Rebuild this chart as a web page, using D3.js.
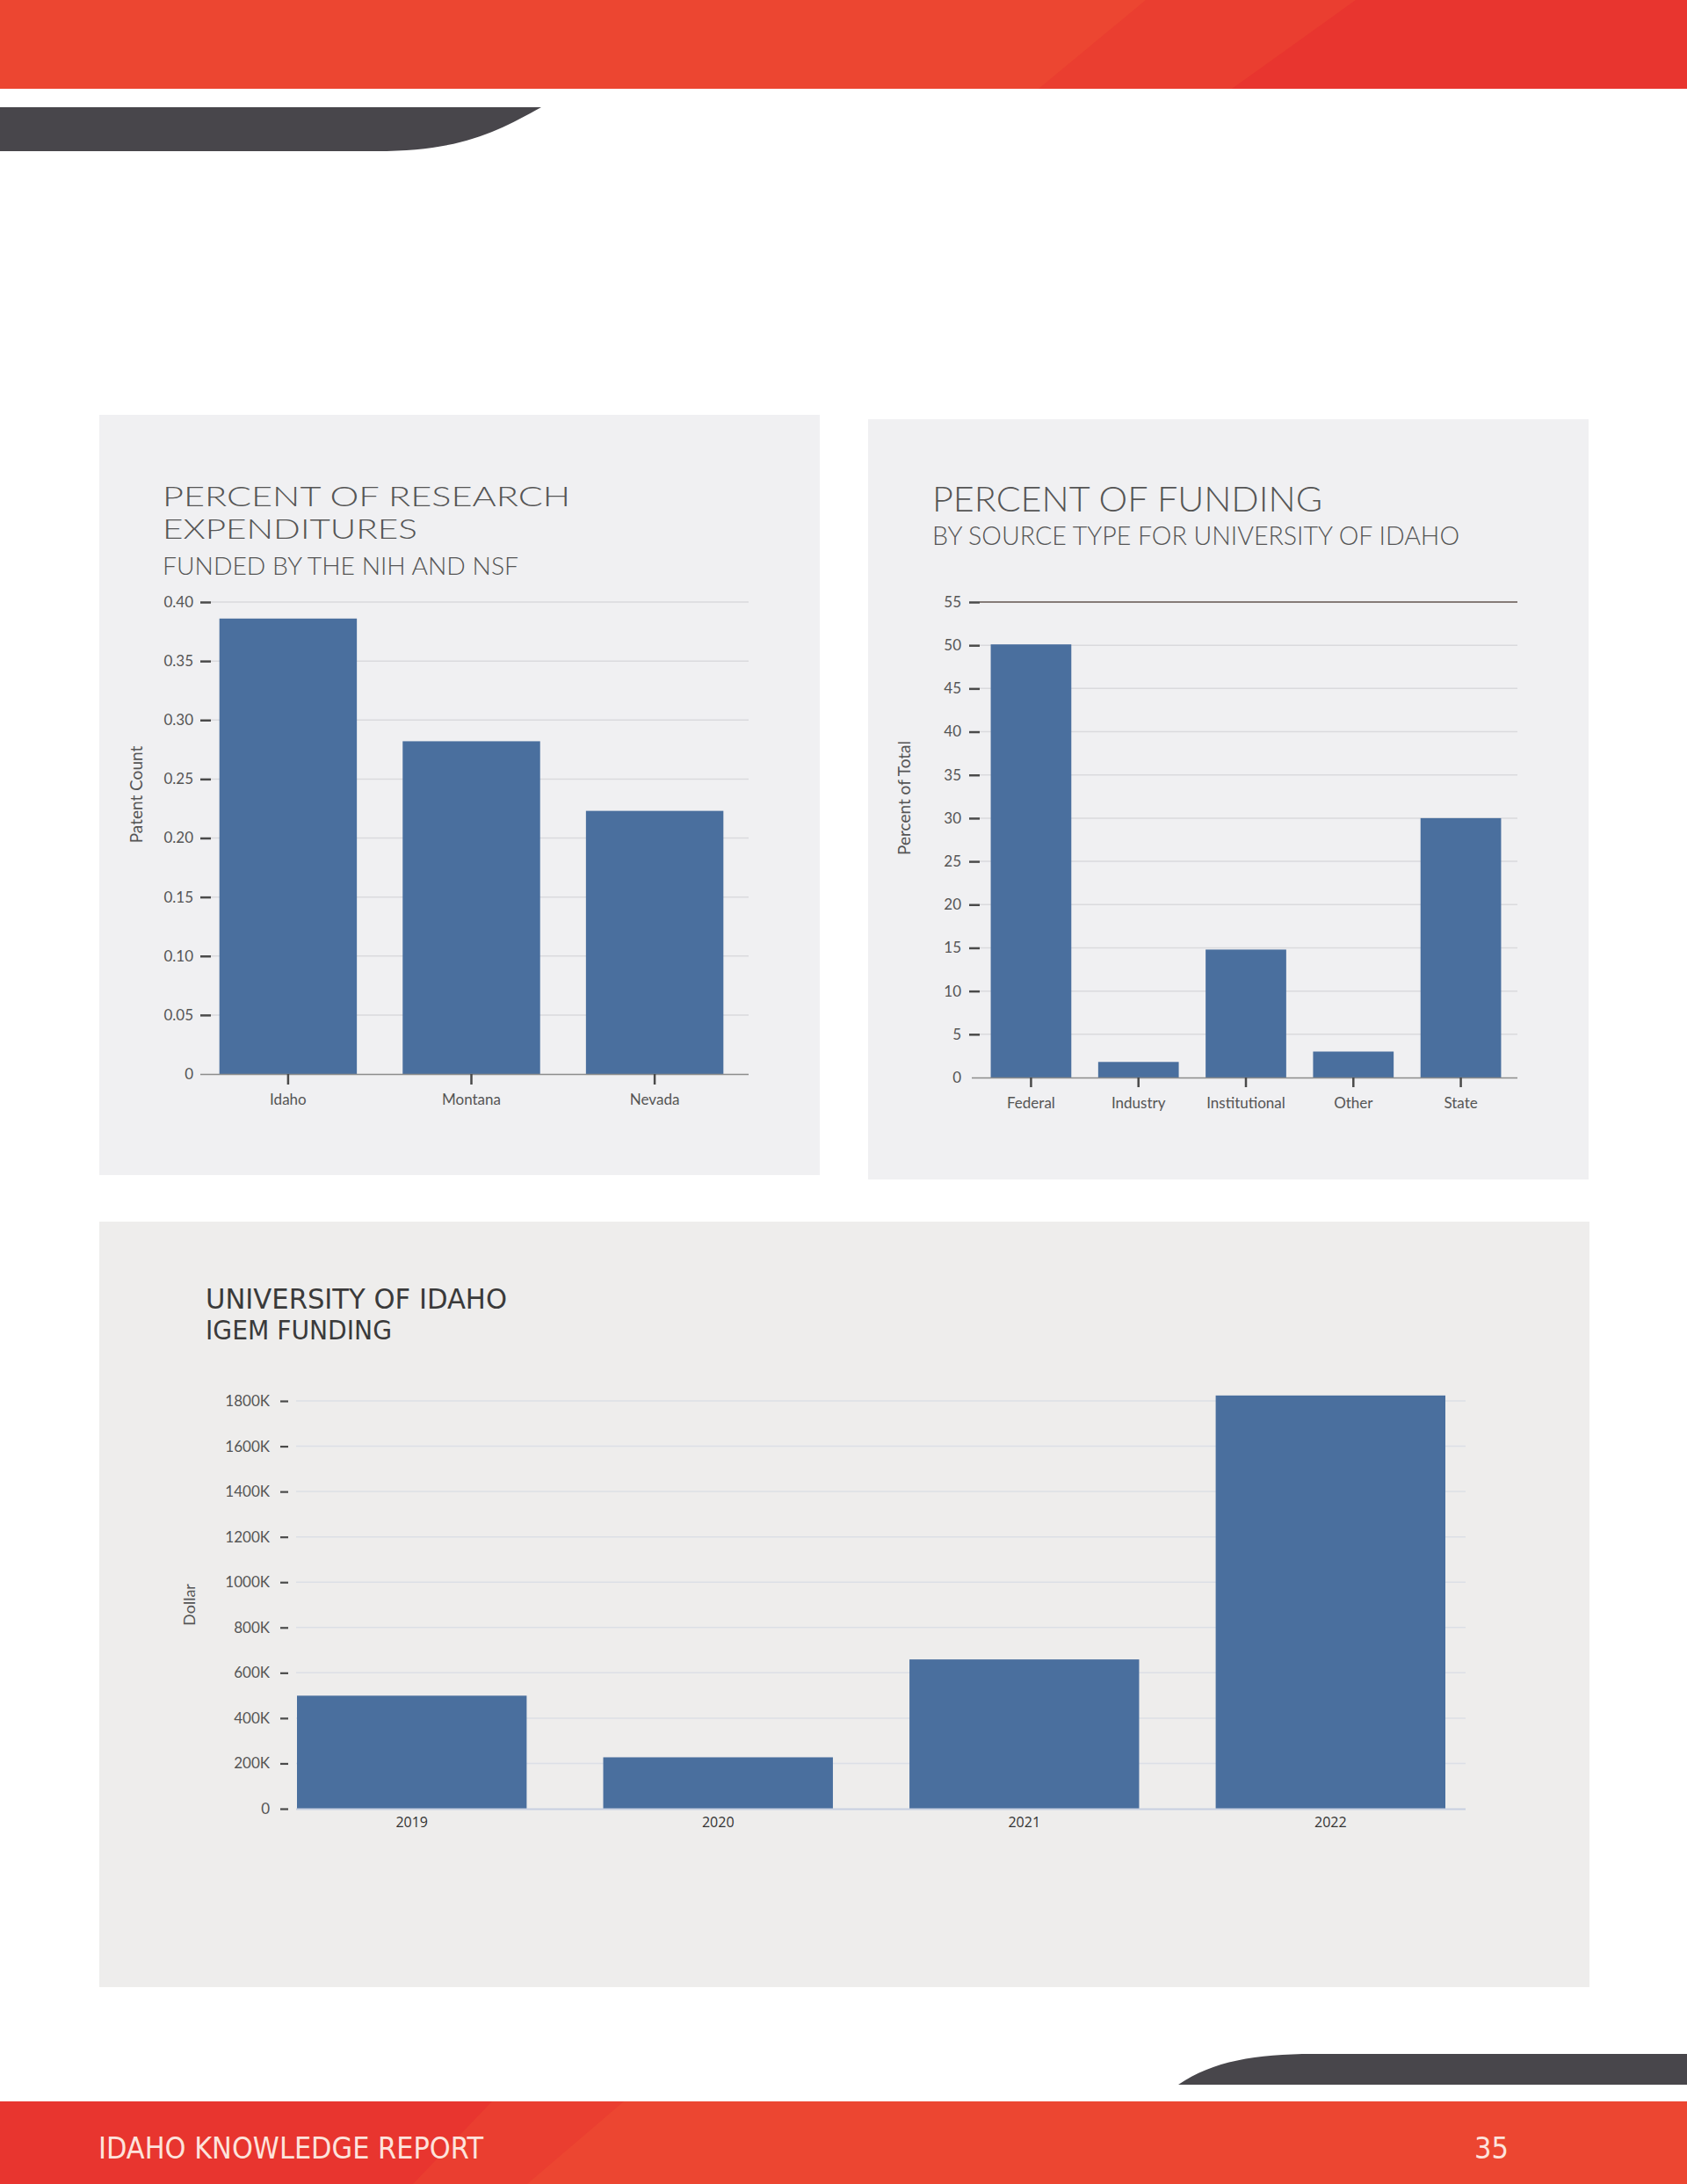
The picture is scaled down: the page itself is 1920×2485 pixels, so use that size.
<!DOCTYPE html>
<html>
<head>
<meta charset="utf-8">
<script src="https://cdn.jsdelivr.net/npm/d3@7"></script>
<style>
  html, body { margin: 0; padding: 0; background: #ffffff; }
  svg { display: block; }
</style>
</head>
<body>
<svg id="page" width="1920" height="2485"></svg>
<script>
// ---------- DATA ----------
const nihStates = ["Idaho", "Montana", "Nevada"];
const nihValues = [0.386, 0.282, 0.223];
const nihTicks = [0, 0.05, 0.10, 0.15, 0.20, 0.25, 0.30, 0.35, 0.40];

const sourceTypes = ["Federal", "Industry", "Institutional", "Other", "State"];
const sourceValues = [50.1, 1.8, 14.8, 3.0, 30.0];
const sourceTicks = [0, 5, 10, 15, 20, 25, 30, 35, 40, 45, 50, 55];

const igemYears = ["2019", "2020", "2021", "2022"];
const igemValues = [499000, 227000, 659000, 1824000];
const igemTicks = [0, 200000, 400000, 600000, 800000, 1000000, 1200000, 1400000, 1600000, 1800000];

// ---------- STYLE ----------
const BAR = "#4a6f9e";
const TXT = "#555555";
const SANS = "Lato, 'Open Sans', 'Noto Sans', sans-serif";
const NARROW = "'Liberation Sans Narrow', 'DejaVu Sans Condensed', 'Liberation Sans', sans-serif";

const svg = d3.select("#page");

// ---------- PAGE DECORATION ----------
svg.append("rect").attr("x", 0).attr("y", 0).attr("width", 1920).attr("height", 101).attr("fill", "#ec4631");
svg.append("path").attr("d", "M1304,0 L1920,0 L1920,101 L1182,101 Z").attr("fill", "#ea3e30");
svg.append("path").attr("d", "M1543,0 L1920,0 L1920,101 L1402,101 Z").attr("fill", "#e8352f");
svg.append("path").attr("d", "M0,122 L616,122 C 565,150 525,172 428,172 L0,172 Z").attr("fill", "#48464b");

svg.append("path").attr("d", "M1341,2372 C 1380,2345 1430,2337 1494,2337 L1920,2337 L1920,2372 Z").attr("fill", "#48464b");
svg.append("rect").attr("x", 0).attr("y", 2391).attr("width", 1920).attr("height", 94).attr("fill", "#ec4631");
svg.append("path").attr("d", "M0,2391 L710,2391 L600,2485 L0,2485 Z").attr("fill", "#ea3e30");
svg.append("path").attr("d", "M0,2391 L560,2391 L470,2485 L0,2485 Z").attr("fill", "#e8352f");
svg.append("text").attr("x", 112).attr("y", 2456)
  .attr("font-family", NARROW).attr("font-size", 34).attr("fill", "#fde3dc")
  .attr("textLength", 438).attr("lengthAdjust", "spacingAndGlyphs")
  .text("IDAHO KNOWLEDGE REPORT");
svg.append("text").attr("x", 1717).attr("y", 2456).attr("text-anchor", "end")
  .attr("font-family", NARROW).attr("font-size", 34).attr("fill", "#fde3dc")
  .text("35");

// ---------- HELPERS ----------
function title(x, y, size, str, width, color, family, weight) {
  const t = svg.append("text").attr("x", x).attr("y", y)
    .attr("font-family", family || SANS).attr("font-weight", weight || 300)
    .attr("font-size", size).attr("fill", color || TXT).text(str);
  if (width) t.attr("textLength", width).attr("lengthAdjust", "spacingAndGlyphs");
  return t;
}
function yTitle(x, y, str, size, color) {
  svg.append("text").attr("transform", `translate(${x},${y}) rotate(-90)`)
    .attr("text-anchor", "middle").attr("dominant-baseline", "middle")
    .attr("font-family", SANS).attr("font-size", size).attr("fill", color || TXT).text(str);
}

// ---------- CHART 1 ----------
(function () {
  svg.append("rect").attr("x", 113).attr("y", 472).attr("width", 820).attr("height", 865).attr("fill", "#f0f0f2");
  title(185, 576, 31, "PERCENT OF RESEARCH", 464);
  title(185, 613, 31, "EXPENDITURES", 290);
  title(185, 654, 28, "FUNDED BY THE NIH AND NSF", 405);

  const x = d3.scaleBand().domain(nihStates).range([233, 840]).paddingInner(0.25).paddingOuter(0.08);
  const y = d3.scaleLinear().domain([0, 0.40]).range([1222, 685]);
  const g = svg.append("g");

  g.selectAll("line.grid").data(nihTicks.filter(d => d > 0)).join("line")
    .attr("x1", 240).attr("x2", 852).attr("y1", d => y(d)).attr("y2", d => y(d))
    .attr("stroke", "#dadadd").attr("stroke-width", 1.5);

  g.selectAll("rect.bar").data(nihValues).join("rect")
    .attr("x", (d, i) => x(nihStates[i])).attr("width", x.bandwidth())
    .attr("y", d => y(d)).attr("height", d => y(0) - y(d)).attr("fill", BAR);

  const ya = g.append("g").attr("transform", "translate(240,0)")
    .call(d3.axisLeft(y).tickValues(nihTicks).tickSize(12).tickPadding(8)
      .tickFormat(d => d === 0 ? "0" : d3.format(".2f")(d)));
  ya.select(".domain").remove();
  ya.selectAll(".tick line").attr("stroke", "#4a4a4a").attr("stroke-width", 2.5);
  ya.selectAll(".tick text").attr("font-family", SANS).attr("font-size", 17).attr("fill", TXT);
  ya.selectAll(".tick").filter(d => d === 0).select("line").attr("stroke", "none");

  const xa = g.append("g").attr("transform", "translate(0,1222)")
    .call(d3.axisBottom(x).tickSize(12).tickPadding(11).tickSizeOuter(0));
  xa.select(".domain").attr("d", "M228,0.5H852").attr("stroke", "#8c8c8c").attr("stroke-width", 1.5);
  xa.selectAll(".tick line").attr("stroke", "#4a4a4a").attr("stroke-width", 2.5);
  xa.selectAll(".tick text").attr("font-family", SANS).attr("font-size", 17).attr("fill", TXT);

  yTitle(157, 904, "Patent Count", 19);
})();

// ---------- CHART 2 ----------
(function () {
  svg.append("rect").attr("x", 988).attr("y", 477).attr("width", 820).attr("height", 865).attr("fill", "#f0f0f2");
  title(1061, 582, 40, "PERCENT OF FUNDING", 444);
  title(1061, 620, 29, "BY SOURCE TYPE FOR UNIVERSITY OF IDAHO", 600);

  const x = d3.scaleBand().domain(sourceTypes).range([1108, 1728]).paddingInner(0.25).paddingOuter(0.16);
  const y = d3.scaleLinear().domain([0, 55]).range([1226, 685]);
  const g = svg.append("g");

  g.selectAll("line.grid").data(sourceTicks.filter(d => d > 0)).join("line")
    .attr("x1", 1115).attr("x2", 1727).attr("y1", d => y(d)).attr("y2", d => y(d))
    .attr("stroke", d => d === 55 ? "#857b78" : "#dadadd").attr("stroke-width", d => d === 55 ? 2 : 1.5);

  g.selectAll("rect.bar").data(sourceValues).join("rect")
    .attr("x", (d, i) => x(sourceTypes[i])).attr("width", x.bandwidth())
    .attr("y", d => y(d)).attr("height", d => y(0) - y(d)).attr("fill", BAR);

  const ya = g.append("g").attr("transform", "translate(1115,0)")
    .call(d3.axisLeft(y).tickValues(sourceTicks).tickSize(12).tickPadding(9));
  ya.select(".domain").remove();
  ya.selectAll(".tick line").attr("stroke", "#4a4a4a").attr("stroke-width", 2.5);
  ya.selectAll(".tick text").attr("font-family", SANS).attr("font-size", 17).attr("fill", TXT);
  ya.selectAll(".tick").filter(d => d === 0).select("line").attr("stroke", "none");

  const xa = g.append("g").attr("transform", "translate(0,1226)")
    .call(d3.axisBottom(x).tickSize(11).tickPadding(12).tickSizeOuter(0));
  xa.select(".domain").attr("d", "M1106,0.5H1727").attr("stroke", "#8c8c8c").attr("stroke-width", 1.5);
  xa.selectAll(".tick line").attr("stroke", "#4a4a4a").attr("stroke-width", 2.5);
  xa.selectAll(".tick text").attr("font-family", SANS).attr("font-size", 17).attr("fill", TXT);

  yTitle(1031, 908, "Percent of Total", 19);
})();

// ---------- CHART 3 ----------
(function () {
  svg.append("rect").attr("x", 113).attr("y", 1390).attr("width", 1696).attr("height", 871).attr("fill", "#eeedec");
  title(234, 1489, 32, "UNIVERSITY OF IDAHO", 343, "#3a3a3a", NARROW, 400);
  title(234, 1524, 30, "IGEM FUNDING", 212, "#3a3a3a", NARROW, 400);

  const x = d3.scaleBand().domain(igemYears).range([338, 1645]).paddingInner(0.25).paddingOuter(0);
  const y = d3.scaleLinear().domain([0, 1800000]).range([2058, 1594]);
  const g = svg.append("g");

  g.selectAll("line.grid").data(igemTicks.filter(d => d > 0)).join("line")
    .attr("x1", 337).attr("x2", 1668).attr("y1", d => y(d)).attr("y2", d => y(d))
    .attr("stroke", "#dcdfe6").attr("stroke-width", 1.5);

  g.selectAll("rect.bar").data(igemValues).join("rect")
    .attr("x", (d, i) => x(igemYears[i])).attr("width", x.bandwidth())
    .attr("y", d => y(d)).attr("height", d => y(0) - y(d)).attr("fill", BAR);

  g.append("line").attr("x1", 337).attr("x2", 1668).attr("y1", y(0) + 0.5).attr("y2", y(0) + 0.5)
    .attr("stroke", "#c7cfe0").attr("stroke-width", 2);

  const ya = g.append("g").attr("transform", "translate(328,0)")
    .call(d3.axisLeft(y).tickValues(igemTicks).tickSize(9).tickPadding(12)
      .tickFormat(d => d === 0 ? "0" : (d / 1000) + "K"));
  ya.select(".domain").remove();
  ya.selectAll(".tick line").attr("stroke", "#4a4a4a").attr("stroke-width", 2.2);
  ya.selectAll(".tick text").attr("font-family", SANS).attr("font-size", 17).attr("fill", TXT);

  const xa = g.append("g").attr("transform", "translate(0,2058)")
    .call(d3.axisBottom(x).tickSize(0).tickPadding(10).tickSizeOuter(0));
  xa.select(".domain").remove();
  xa.selectAll(".tick text").attr("font-family", "'Open Sans', 'Noto Sans', sans-serif").attr("font-size", 16).attr("fill", "#333333");

  yTitle(217, 1826, "Dollar", 18, "#555555");
})();
</script>
</body>
</html>
